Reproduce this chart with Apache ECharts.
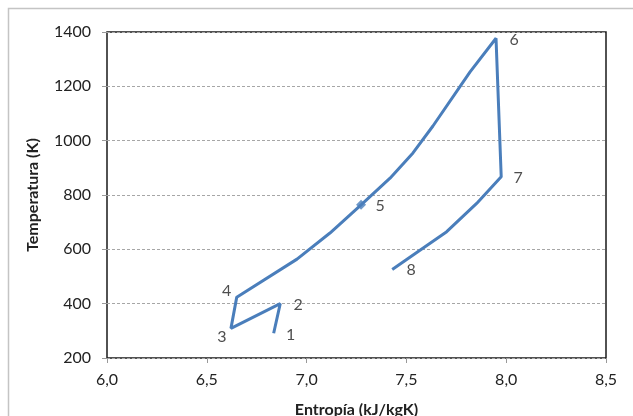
<!DOCTYPE html>
<html><head><meta charset="utf-8">
<script src="https://cdn.jsdelivr.net/npm/echarts@6/dist/echarts.min.js"></script>
<style>html,body{margin:0;padding:0;background:#fff}#c{width:633px;height:416px}</style>
</head><body><div id="c"></div>
<script>
const entropy = [6.835, 6.868, 6.621, 6.650, 6.952, 7.117, 7.273, 7.418, 7.533, 7.633, 7.819, 7.949, 7.975, 7.852, 7.702, 7.568, 7.429];
const temperature = [291, 400, 309, 424, 564, 660, 764, 862, 955, 1054, 1253, 1377, 867, 769, 665, 597, 526];
const pointNames = ['1','2','3','4','5','6','7','8'];
const pointIndex = [0, 1, 2, 3, 6, 11, 12, 16];
const labelOffsets = [[17,2],[18,1],[-9,8],[-10,-6],[19,1],[18,2],[17,1],[19,0]];
const xTicks = {min: 6.0, max: 8.5, interval: 0.5};
const yTicks = {min: 200, max: 1400, interval: 200};

const color = '#4a7ebb';
const font = 'Lato';
const lineData = entropy.map((x, i) => [x, temperature[i]]);
const labelData = pointIndex.map((idx, k) => ({
  value: [entropy[idx], temperature[idx]],
  symbol: pointNames[k] === '5' ? 'diamond' : 'circle',
  symbolSize: pointNames[k] === '5' ? 10 : 0,
  label: {show: true, formatter: pointNames[k], position: 'inside', offset: labelOffsets[k],
          color: '#222', fontSize: 16, fontFamily: font}
}));

const chart = echarts.init(document.getElementById('c'), null, {renderer: 'canvas'});
chart.setOption({
  animation: false,
  graphic: [{type: 'rect', shape: {x: 8.5, y: 8.5, width: 700, height: 500},
    style: {fill: 'none', stroke: '#c4c4c4', lineWidth: 1.5}, silent: true}],
  grid: {left: 107, top: 32, width: 499, height: 326, show: true, borderColor: '#1a1a1a', borderWidth: 1.5,
    backgroundColor: 'transparent', containLabel: false, outerBoundsMode: 'none'},
  xAxis: {type: 'value', min: xTicks.min, max: xTicks.max, interval: xTicks.interval,
    name: 'Entropía (kJ/kgK)', nameLocation: 'middle', nameGap: 44,
    nameTextStyle: {fontFamily: font, fontSize: 16, fontWeight: 'bold', color: '#222'},
    axisLine: {show: false}, splitLine: {show: false},
    axisTick: {show: true, length: 5, inside: false, lineStyle: {color: '#999'}},
    axisLabel: {fontFamily: font, fontSize: 16, color: '#222', margin: 14,
      formatter: v => v.toFixed(1).replace('.', ',')}},
  yAxis: {type: 'value', min: yTicks.min, max: yTicks.max, interval: yTicks.interval,
    name: 'Temperatura (K)', nameLocation: 'middle', nameGap: 66, nameRotate: 90,
    nameTextStyle: {fontFamily: font, fontSize: 16, fontWeight: 'bold', color: '#222'},
    axisLine: {show: false},
    splitLine: {show: true, lineStyle: {color: '#a6a6a6', type: [3, 2], width: 1}},
    axisTick: {show: true, length: 5, lineStyle: {color: '#999'}},
    axisLabel: {fontFamily: font, fontSize: 16, color: '#222', margin: 16,
      formatter: v => String(v)}},
  series: [
    {type: 'line', data: lineData, symbol: 'none', smooth: false,
     lineStyle: {color: color, width: 3}, z: 3},
    {type: 'scatter', data: labelData, itemStyle: {color: color}, z: 4}
  ]
});
</script></body></html>
